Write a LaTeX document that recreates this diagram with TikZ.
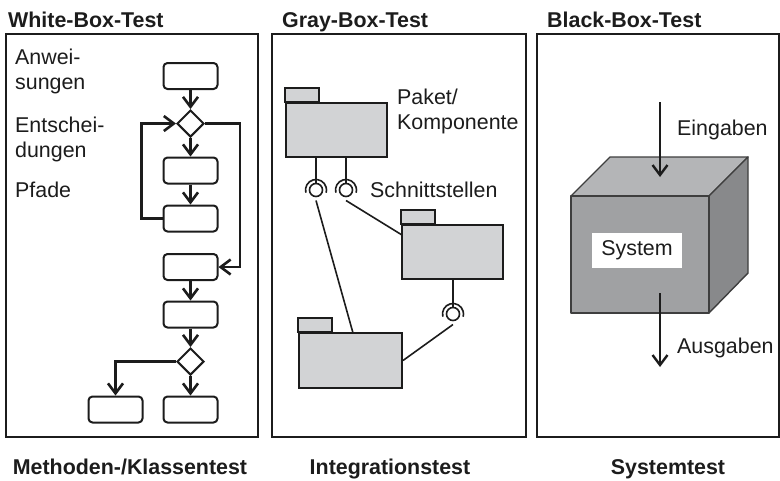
\documentclass[tikz,border=0pt]{standalone}
\usepackage{fontspec}
\setmainfont{Liberation Sans}
\usetikzlibrary{arrows.meta,shapes.geometric}
\definecolor{ink}{RGB}{28,28,28}
\definecolor{pkgfill}{RGB}{210,211,213}
\definecolor{cubefront}{RGB}{160,161,163}
\definecolor{cubetop}{RGB}{180,181,183}
\definecolor{cuberight}{RGB}{136,137,139}
\tikzset{
  txt/.style={font=\fontsize{21.4}{25}\selectfont, text=ink, inner sep=0pt, align=left},
  ttl/.style={font=\fontsize{21.4}{25}\selectfont\bfseries, text=ink, inner sep=0pt},
  panel/.style={draw=ink, line width=2pt},
  fbox/.style={draw=ink, line width=2pt, rounded corners=4pt, minimum width=54pt, minimum height=26pt, inner sep=0pt},
  fdia/.style={draw=ink, line width=2pt, diamond, aspect=1, minimum width=27pt, minimum height=27pt, inner sep=0pt},
  flow/.style={draw=ink, line width=2.6pt, -{Straight Barb[length=10pt,width=15pt]}},
  pkg/.style={draw=ink, line width=2pt, fill=pkgfill, inner sep=0pt},
  pkgtab/.style={draw=ink, line width=2pt, fill=pkgfill},
  ball/.style={draw=ink, line width=1.6pt, circle, minimum size=13pt, inner sep=0pt, fill=white},
  conn/.style={draw=ink, line width=1.6pt},
  cubeedge/.style={draw=ink!85, line width=1.4pt, line join=round},
  barrow/.style={draw=ink, line width=2.4pt, -{Straight Barb[length=10pt,width=15pt]}},
}
\begin{document}
\begin{tikzpicture}[x=1pt,y=-1pt]
\useasboundingbox (0,0) rectangle (780,480);
% panels
\draw[panel] (6,34) rectangle (258,437);
\draw[panel] (272,34) rectangle (526,437);
\draw[panel] (537,34) rectangle (779,437);
% titles
\node[ttl, anchor=base west] (t1) at (8,27) {White-Box-Test};
\node[ttl, anchor=base west] (t2) at (282,27) {Gray-Box-Test};
\node[ttl, anchor=base west] (t3) at (547,27) {Black-Box-Test};
\node[ttl, anchor=base] (c1) at (130,474) {Methoden-/Klassentest};
\node[ttl, anchor=base] (c2) at (390,474) {Integrationstest};
\node[ttl, anchor=base] (c3) at (668,474) {Systemtest};
% left texts
\node[txt, anchor=north west] (l1) at (15,48.5) {Anwei-\\sungen};
\node[txt, anchor=north west] (l2) at (15,116.5) {Entschei-\\dungen};
\node[txt, anchor=base west] (l3) at (15,197) {Pfade};
% flowchart
\node[fbox] (b1) at (190.5,76) {};
\node[fdia] (d1) at (190.5,123.5) {};
\node[fbox] (b2) at (190.5,170.5) {};
\node[fbox] (b3) at (190.5,218.5) {};
\node[fbox] (b4) at (190.5,267) {};
\node[fbox] (b5) at (190.5,314.5) {};
\node[fdia] (d2) at (190.5,361.5) {};
\node[fbox] (b6) at (190.5,409.5) {};
\node[fbox] (b7) at (115.5,409.5) {};
\draw[flow] (b1) -- (d1);
\draw[flow] (d1) -- (b2);
\draw[flow] (b2) -- (b3);
\draw[flow] (b3.west) -- ++(-21,0) |- (d1.west);
\draw[flow] (d1.east) -- ++(35,0) |- (b4.east);
\draw[flow] (b4) -- (b5);
\draw[flow] (b5) -- (d2);
\draw[flow] (d2) -- (b6);
\draw[flow] (d2.west) -| (b7.north);
% middle panel: packages
\node[pkg, minimum width=101pt, minimum height=54pt] (p1) at (336.5,130) {};
\node[pkg, minimum width=101pt, minimum height=54pt] (p2) at (452.5,252) {};
\node[pkg, minimum width=103pt, minimum height=55pt] (p3) at (350.5,360.5) {};
\draw[pkgtab] (p1.north west) rectangle ++(34,-14);
\draw[pkgtab] (p2.north west) rectangle ++(34,-14);
\draw[pkgtab] (p3.north west) rectangle ++(34,-14);
\node[txt, anchor=north west] (pl) at (397,88.5) {Paket/\\Komponente};
\node[txt, anchor=base west] (sl) at (370,197) {Schnittstellen};
% interfaces
\node[ball] (i1) at (316,190) {};
\node[ball] (i2) at (346,190) {};
\node[ball] (i3) at (453,314) {};
\draw[conn] (p1.south -| i1) -- (i1.north);
\draw[conn] (p1.south -| i2) -- (i2.north);
\draw[conn] (p2.south -| i3) -- (i3.north);
\draw[conn] (i1) ++(165:10.5) arc[start angle=165, end angle=375, radius=10.5];
\draw[conn] (i2) ++(165:10.5) arc[start angle=165, end angle=375, radius=10.5];
\draw[conn] (i3) ++(165:10.5) arc[start angle=165, end angle=375, radius=10.5];
\coordinate (s1) at (316,200.5);
\coordinate (s2) at (346,200.5);
\coordinate (s3) at (453,324.5);
\coordinate (e1) at (353,333);
\coordinate (e2) at (402,235);
\draw[conn] (s1) -- (e1);
\draw[conn] (s2) -- (e2);
\draw[conn] (s3) -- (p3.east);
% right panel: cube
\draw[cubeedge, fill=cubetop] (571,196) -- (610,157) -- (748,157) -- (709,196) -- cycle;
\draw[cubeedge, fill=cuberight] (709,196) -- (748,157) -- (748,273) -- (709,313) -- cycle;
\draw[cubeedge, fill=cubefront] (571,196) rectangle (709,313);
\node[fill=white, minimum width=90pt, minimum height=35pt, inner sep=0pt, font=\fontsize{21.4}{25}\selectfont, text=ink] (sys) at (637,250) {System};
\coordinate (a1) at (660,102);
\coordinate (a2) at (660,177);
\coordinate (a3) at (660,293);
\coordinate (a4) at (660,367);
\draw[barrow] (a1) -- (a2);
\draw[barrow] (a3) -- (a4);
\node[txt, anchor=base west] (ein) at (677,135) {Eingaben};
\node[txt, anchor=base west] (aus) at (677,353) {Ausgaben};
\end{tikzpicture}
\end{document}
